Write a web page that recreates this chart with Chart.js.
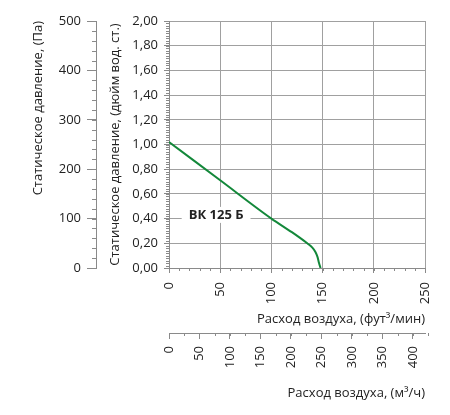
<!DOCTYPE html>
<html>
<head>
<meta charset="utf-8">
<script src="https://cdn.jsdelivr.net/npm/chart.js@4.4.1/dist/chart.umd.min.js"></script>
<style>
  html, body { margin: 0; padding: 0; background: #fff; }
  #wrap { width: 450px; height: 415px; }
</style>
</head>
<body>
<div id="wrap"><canvas id="fan" width="450" height="415"></canvas></div>
<script>
// curve: flow in cfm, static pressure in inches of water
const flowCfm = [0, 50, 100, 120, 135, 140, 143, 145, 146.5, 148];
const pressIn = [1.02, 0.71, 0.40, 0.29, 0.20, 0.165, 0.13, 0.09, 0.04, 0];

const curveName = "ВК 125 Б";
const curveNameAt = [46, 0.43]; // cfm, inch

const titlePa = "Статическое давление, (Па)";
const titleIn = "Статическое давление, (дюйм вод. ст.)";
const titleCfm = "Расход воздуха, (фут³/мин)";
const titleM3h = "Расход воздуха, (м³/ч)";

const FONT = "'Open Sans', sans-serif";
const TXT = "#222";
const GRID = "#a0a0a0";
const AXIS = "#8a8a8a";

// small ticks between the labelled ones
const minorTicks = {
  y:  { step: 0.02, len: 3 },
  y2: { step: 20, len: 4 },
  x:  { step: 10, len: 3 },
  x2: { step: 25, len: 3 }
};

const minorPlugin = {
  id: "minor",
  afterDraw(chart) {
    const ctx = chart.ctx;
    ctx.save();
    ctx.strokeStyle = AXIS;
    ctx.lineWidth = 1;
    for (const id in minorTicks) {
      const s = chart.scales[id];
      const m = minorTicks[id];
      const n = Math.round((s.max - s.min) / m.step);
      for (let i = 0; i <= n; i++) {
        const v = s.min + i * m.step;
        const p = Math.round(s.getPixelForValue(v)) + 0.5;
        ctx.beginPath();
        if (s.isHorizontal()) {
          ctx.moveTo(p, s.top);
          ctx.lineTo(p, s.top + m.len);
        } else {
          ctx.moveTo(s.right - m.len, p);
          ctx.lineTo(s.right, p);
        }
        ctx.stroke();
      }
    }
    // curve name with a white box behind it
    const x = chart.scales.x.getPixelForValue(curveNameAt[0]);
    const y = chart.scales.y.getPixelForValue(curveNameAt[1]);
    ctx.font = "bold 13px " + FONT;
    ctx.textAlign = "center";
    ctx.textBaseline = "middle";
    const w = ctx.measureText(curveName).width;
    ctx.fillStyle = "#fff";
    ctx.fillRect(x - w / 2 - 7, y - 8, w + 14, 16);
    ctx.fillStyle = TXT;
    ctx.fillText(curveName, x, y);
    ctx.restore();
  }
};

const tickFont = { family: FONT, size: 13 };

new Chart("fan", {
  type: "scatter",
  data: {
    datasets: [{
      data: flowCfm.map((f, i) => ({ x: f, y: pressIn[i] })),
      showLine: true,
      borderColor: "#13883a",
      borderWidth: 2,
      pointRadius: 0,
      cubicInterpolationMode: "monotone",
      xAxisID: "x",
      yAxisID: "y"
    }]
  },
  options: {
    responsive: false,
    animation: false,
    layout: { padding: { left: 30, right: 25, top: 21, bottom: 14 } },
    plugins: { legend: { display: false }, tooltip: { enabled: false } },
    scales: {
      x: {
        type: "linear", position: "bottom", min: 0, max: 250, weight: 0,
        afterFit: s => { s.height = 65; },
        grid: { color: GRID, tickColor: AXIS, tickLength: 5 },
        border: { color: AXIS },
        ticks: { stepSize: 50, color: TXT, font: tickFont, padding: 9, minRotation: 90, maxRotation: 90 },
        title: { display: true, text: titleCfm, align: "end", color: TXT, font: tickFont, padding: { top: 0, bottom: 6 } }
      },
      x2: {
        type: "linear", position: "bottom", min: 0, max: 420, weight: 1,
        afterFit: s => { s.height = 68; },
        grid: { drawOnChartArea: false, tickColor: AXIS, tickLength: 6 },
        border: { color: AXIS },
        ticks: { stepSize: 50, includeBounds: false, color: TXT, font: tickFont, padding: 7, minRotation: 90, maxRotation: 90 },
        title: { display: true, text: titleM3h, align: "end", color: TXT, font: tickFont, padding: { top: 8, bottom: 0 } }
      },
      y: {
        type: "linear", position: "left", min: 0, max: 2, weight: 0,
        afterFit: s => { s.width = 73; },
        grid: { color: GRID, tickColor: AXIS, tickLength: 5 },
        border: { color: AXIS },
        ticks: { stepSize: 0.2, color: TXT, font: tickFont, padding: 6,
          callback: v => v.toFixed(2).replace(".", ",") },
        title: { display: true, text: titleIn, color: TXT, font: tickFont, padding: { top: 11, bottom: 2 } }
      },
      y2: {
        type: "linear", position: "left", min: 0, max: 500, weight: 1,
        afterFit: s => { s.width = 66; },
        grid: { drawOnChartArea: false, tickColor: AXIS, tickLength: 9 },
        border: { color: AXIS },
        ticks: { stepSize: 100, color: TXT, font: tickFont, padding: 6 },
        title: { display: true, text: titlePa, align: "end", color: TXT, font: tickFont, padding: { top: 0, bottom: 7 } }
      }
    }
  },
  plugins: [minorPlugin]
});
</script>
</body>
</html>
